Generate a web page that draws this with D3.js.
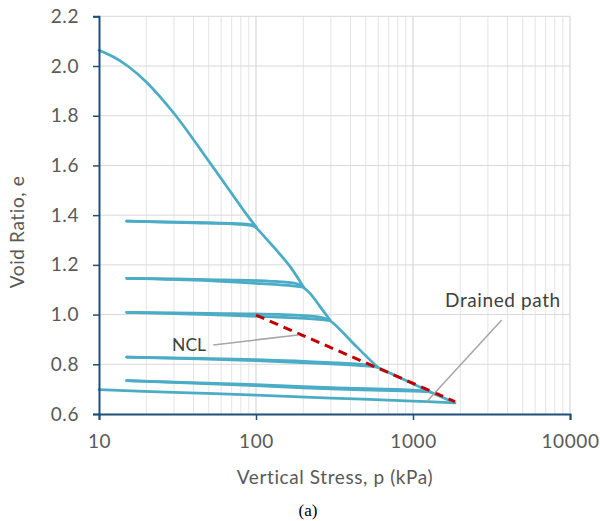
<!DOCTYPE html>
<html>
<head>
<meta charset="utf-8">
<style>
  body { margin: 0; background: #fff; }
  svg text { font-family: Lato, "Open Sans", sans-serif; }
</style>
</head>
<body>
<svg width="600" height="521"></svg>
<script src="https://d3js.org/d3.v7.min.js"></script>
<script>
// oedometer test, void ratio vs vertical stress (log)
var yTicks = [0.6, 0.8, 1.0, 1.2, 1.4, 1.6, 1.8, 2.0, 2.2];
var xTicks = [10, 100, 1000, 10000];

// [p (kPa), e]
var virgin1 = [[10,2.063],[12.65,2.033],[15.3,1.999],[20,1.936],[30,1.81],[51,1.61],[89,1.395],[100,1.353]];
var unload1 = [[100,1.353],[94,1.361],[70,1.367],[40,1.371],[15,1.376]];
var reload1 = [[15,1.376],[40,1.369],[70,1.365],[94,1.358],[100,1.351]];
var virgin2 = [[100,1.351],[129,1.273],[165,1.193],[200,1.112]];
var unload2 = [[200,1.112],[180,1.125],[120,1.135],[50,1.141],[15,1.146]];
var reload2 = [[15,1.146],[50,1.137],[100,1.126],[160,1.117],[200,1.11]];
var virgin3 = [[200,1.11],[221,1.085],[256,1.032],[296,0.978]];
var unload3 = [[296,0.978],[250,0.991],[150,1.0],[50,1.005],[15,1.009]];
var reload3 = [[15,1.009],[50,1.0],[150,0.989],[250,0.981],[296,0.976]];
var virgin4 = [[296,0.976],[330,0.95],[437,0.871],[590,0.79]];
var unload4 = [[590,0.79],[500,0.798],[300,0.807],[100,0.819],[15,0.829]];
var reload4 = [[15,0.829],[100,0.815],[300,0.802],[500,0.794],[590,0.789]];
var virgin5 = [[590,0.789],[1280,0.69]];
var unload5 = [[1280,0.69],[1000,0.696],[300,0.706],[100,0.718],[15,0.734]];
var reload5 = [[15,0.734],[100,0.714],[300,0.701],[1000,0.692],[1280,0.689]];
var virgin6 = [[1280,0.689],[1850,0.645]];
var unload6 = [[1850,0.645],[1000,0.652],[300,0.664],[100,0.676],[30,0.687],[10,0.698]];

var ncl = [[100,0.998],[1850,0.65]];

// annotations: label anchor + leader line, in data units
var nclLabel = {text: "NCL", at: [29.2,0.878], line: [[53.5,0.878],[185,0.918]], size: 17.5, ls: 0};
var drainedLabel = {text: "Drained path", at: [1600,1.056], line: [[3672,0.978],[1222,0.649]], size: 19, ls: 0.6};

var svg = d3.select("svg");
var x = d3.scaleLog().domain([10, 10000]).range([99, 570]);
var y = d3.scaleLinear().domain([0.6, 2.2]).range([414, 16.3]);

// minor vertical grid
var minor = [];
[10, 100, 1000].forEach(function(d) {
  for (var k = 2; k <= 9; k++) minor.push(d * k);
});
svg.append("g").selectAll("line").data(minor).enter().append("line")
  .attr("x1", function(d) { return x(d); }).attr("x2", function(d) { return x(d); })
  .attr("y1", y(0.6)).attr("y2", y(2.2))
  .attr("stroke", "#e4e4e4").attr("stroke-width", 1);

// horizontal grid
svg.append("g").selectAll("line").data(yTicks.slice(1)).enter().append("line")
  .attr("x1", x(10)).attr("x2", x(10000))
  .attr("y1", function(d) { return y(d); }).attr("y2", function(d) { return y(d); })
  .attr("stroke", "#d9d9d9").attr("stroke-width", 1);

// major vertical grid
svg.append("g").selectAll("line").data(xTicks.slice(1)).enter().append("line")
  .attr("x1", function(d) { return x(d); }).attr("x2", function(d) { return x(d); })
  .attr("y1", y(0.6)).attr("y2", y(2.2))
  .attr("stroke", "#cfcfcf").attr("stroke-width", 1);

var line = d3.line()
  .x(function(d) { return x(d[0]); })
  .y(function(d) { return y(d[1]); })
  .curve(d3.curveCatmullRom.alpha(0.5));

var segs = [virgin1, unload1, reload1, virgin2, unload2, reload2, virgin3, unload3, reload3,
            virgin4, unload4, reload4, virgin5, unload5, reload5, virgin6, unload6];
svg.append("g").selectAll("path").data(segs).enter().append("path")
  .attr("d", line)
  .attr("fill", "none")
  .attr("stroke", "#4bacc6")
  .attr("stroke-width", 2.75)
  .attr("stroke-linecap", "round")
  .attr("stroke-linejoin", "round");

svg.append("path")
  .attr("d", d3.line().x(function(d) { return x(d[0]); }).y(function(d) { return y(d[1]); })(ncl))
  .attr("fill", "none")
  .attr("stroke", "#c00000")
  .attr("stroke-width", 3)
  .attr("stroke-dasharray", "9,6");

// annotations
[nclLabel, drainedLabel].forEach(function(a) {
  svg.append("line")
    .attr("x1", x(a.line[0][0])).attr("y1", y(a.line[0][1]))
    .attr("x2", x(a.line[1][0])).attr("y2", y(a.line[1][1]))
    .attr("stroke", "#a6a6a6").attr("stroke-width", 1.5);
  svg.append("text")
    .attr("x", x(a.at[0])).attr("y", y(a.at[1]))
    .attr("dy", "0.35em")
    .attr("font-size", a.size)
    .attr("letter-spacing", a.ls)
    .attr("fill", "#404040")
    .text(a.text);
});

// axes
var yAxis = svg.append("g").attr("transform", "translate(" + x(10) + ",0)")
  .call(d3.axisLeft(y).tickValues(yTicks).tickFormat(d3.format(".1f")).tickSize(6).tickPadding(14));
var xAxis = svg.append("g").attr("transform", "translate(0," + y(0.6) + ")")
  .call(d3.axisBottom(x).tickValues(xTicks).tickFormat(d3.format("d")).tickSize(6).tickPadding(15));
[yAxis, xAxis].forEach(function(g) {
  g.select(".domain").attr("stroke", "#1f4e79").attr("stroke-width", 2);
  g.selectAll(".tick line").attr("stroke", "#1f4e79").attr("stroke-width", 1.5);
  g.selectAll(".tick text").attr("fill", "#595959").attr("font-size", 19)
    .attr("letter-spacing", 0.6)
    .attr("font-family", "Lato, sans-serif");
});

svg.append("text")
  .attr("x", 335).attr("y", 484)
  .attr("text-anchor", "middle")
  .attr("font-size", 19)
  .attr("letter-spacing", 0.6)
  .attr("fill", "#595959")
  .text("Vertical Stress, p (kPa)");

svg.append("text")
  .attr("transform", "translate(24,232) rotate(-90)")
  .attr("text-anchor", "middle")
  .attr("font-size", 19)
  .attr("letter-spacing", 0.6)
  .attr("fill", "#595959")
  .text("Void Ratio, e");

svg.append("text")
  .attr("x", 308).attr("y", 516)
  .attr("text-anchor", "middle")
  .attr("font-size", 17)
  .attr("fill", "#000")
  .style("font-family", "'Liberation Serif', serif")
  .text("(a)");
</script>
</body>
</html>
